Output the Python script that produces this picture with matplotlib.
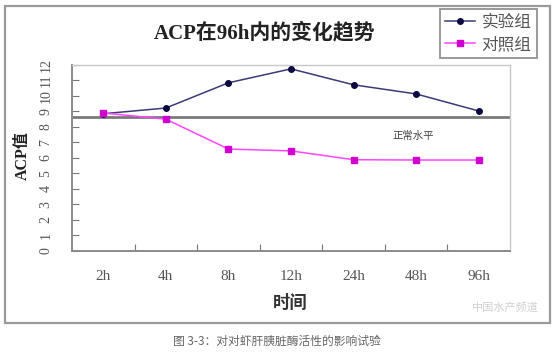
import numpy as np
import matplotlib.pyplot as plt
from matplotlib.patches import Rectangle

plt.rcParams['font.family'] = ['Noto Sans CJK SC', 'DejaVu Sans']

# --- данные ---
times = ['2h', '4h', '8h', '12h', '24h', '48h', '96h']
exp_group = [8.85, 9.22, 10.85, 11.75, 10.72, 10.13, 9.03]
ctrl_group = [8.9, 8.5, 6.57, 6.45, 5.88, 5.86, 5.86]
normal_level = 8.67
y_ticks = list(range(0, 13))

fig = plt.figure(figsize=(5.56, 3.54), dpi=100)
W, H = 556, 354

# внешняя рамка
fig.patches.append(Rectangle((5 / W, 1 - 323 / H), 545 / W, 317 / H,
                             transform=fig.transFigure, fill=False,
                             edgecolor='#9a9a9a', lw=1.6))

ax = fig.add_axes([72 / W, 1 - 250.7 / H, 438 / W, 185.7 / H])
x = np.arange(len(times))

ax.axhline(normal_level, color='#7a7a7a', lw=2, zorder=1)
ax.plot(x, exp_group, '-o', color='#3a3a78', mfc='#0a0a40', mec='#0a0a40',
        ms=4, lw=1.1, label='实验组', zorder=3)
ax.plot(x, ctrl_group, '-s', color='#ff44ff', mfc='#d000d0', mec='#d000d0',
        ms=4.5, lw=1.1, label='对照组', zorder=3)

ax.set_xlim(-0.5, len(times) - 0.5)
ax.set_ylim(0, 12)

# деления по X на границах категорий, подписи по центру
ax.set_xticks(np.arange(0.5, len(times) - 0.5))
ax.set_xticklabels([])
ax.set_xticks(x, minor=True)
ax.set_xticklabels(times, minor=True, family='Liberation Serif',
                   fontsize=11, color='#555555')
ax.tick_params(axis='x', which='major', direction='in', length=5,
               color='#777777')
ax.tick_params(axis='x', which='minor', length=0, pad=14)

ax.set_yticks(y_ticks)
ax.set_yticklabels([str(v) for v in y_ticks], family='Liberation Serif',
                   fontsize=10, color='#555555', rotation=90, va='center')
ax.tick_params(axis='y', direction='in', length=5, color='#777777', pad=14)

for s in ax.spines.values():
    s.set_color('#8a8a8a')
    s.set_linewidth(1.4)
for s in ['top', 'right']:
    ax.spines[s].set_color('#c8c8c8')
    ax.spines[s].set_linewidth(1.0)

ax.text(4.95, 7.4, '正常水平', fontsize=7.5, color='#444444', ha='center',
        va='center')

fig.text(265 / W, 1 - 33 / H, 'ACP在96h内的变化趋势', fontsize=15,
         fontweight='bold', ha='center', va='center', color='#222222',
         family=['Liberation Serif', 'Noto Sans CJK SC'])
fig.text(23 / W, 1 - 156 / H, 'ACP值', rotation=90, fontsize=11.5,
         fontweight='bold', ha='center', va='center', color='#222222',
         family=['Liberation Serif', 'Noto Sans CJK SC'])
fig.text(290 / W, 1 - 303 / H, '时间', fontsize=12.5, fontweight='bold',
         ha='center', va='center', color='#333333')

leg = fig.legend(loc='upper left', bbox_to_anchor=(440 / W, 1 - 9 / H),
                 fontsize=12, frameon=True, fancybox=False,
                 handlelength=1.8, handletextpad=0.4, borderpad=0.3,
                 labelspacing=0.3, borderaxespad=0)
leg.get_frame().set_edgecolor('#777777')
leg.get_frame().set_linewidth(1.3)
for t in leg.get_texts():
    t.set_color('#555555')

fig.text(505 / W, 1 - 308 / H, '中国水产频道', fontsize=8, color='#d0d0d0',
         ha='center', va='center', style='italic')

fig.text(277 / W, 1 - 341 / H, '图 3-3：对对虾肝胰脏酶活性的影响试验',
         fontsize=8.5, color='#666666', ha='center', va='center')

fig.savefig('out.png', dpi=100)
